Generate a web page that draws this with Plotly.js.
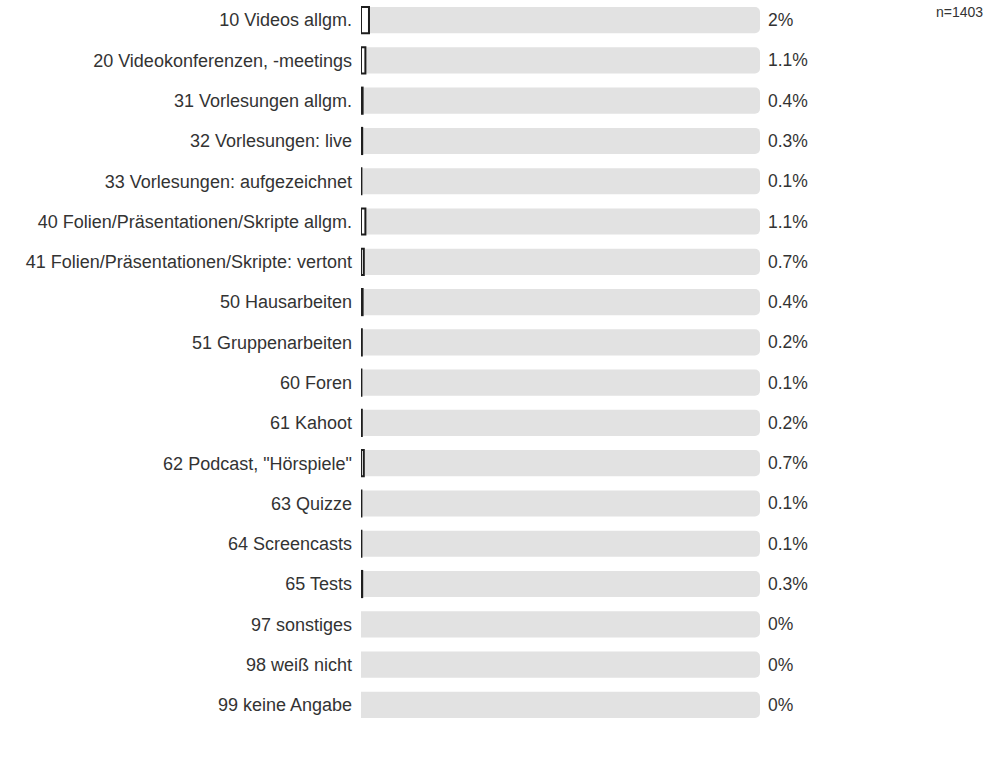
<!DOCTYPE html>
<html>
<head>
<meta charset="utf-8">
<script src="https://cdn.plot.ly/plotly-3.0.1.min.js"></script>
<style>html,body{margin:0;padding:0;background:#fff;}#chart{width:1004px;height:761px;}</style>
</head>
<body>
<div id="chart"></div>
<script>
const categories = [
  "10 Videos allgm.",
  "20 Videokonferenzen, -meetings",
  "31 Vorlesungen allgm.",
  "32 Vorlesungen: live",
  "33 Vorlesungen: aufgezeichnet",
  "40 Folien/Präsentationen/Skripte allgm.",
  "41 Folien/Präsentationen/Skripte: vertont",
  "50 Hausarbeiten",
  "51 Gruppenarbeiten",
  "60 Foren",
  "61 Kahoot",
  "62 Podcast, \"Hörspiele\"",
  "63 Quizze",
  "64 Screencasts",
  "65 Tests",
  "97 sonstiges",
  "98 weiß nicht",
  "99 keine Angabe"
];
const values = [2, 1.1, 0.4, 0.3, 0.1, 1.1, 0.7, 0.4, 0.2, 0.1, 0.2, 0.7, 0.1, 0.1, 0.3, 0, 0, 0];
const valueLabels = ["2%", "1.1%", "0.4%", "0.3%", "0.1%", "1.1%", "0.7%", "0.4%", "0.2%", "0.1%", "0.2%", "0.7%", "0.1%", "0.1%", "0.3%", "0%", "0%", "0%"];
const fullScale = categories.map(() => 100);
const sampleNote = "n=1403";

const font = "Liberation Sans, Arial, sans-serif";

const track = {
  type: "bar", orientation: "h",
  y: categories, x: fullScale,
  marker: {color: "#e2e2e2", cornerradius: 5, line: {width: 0}},
  hoverinfo: "skip", showlegend: false
};
const valueBars = {
  type: "bar", orientation: "h",
  y: categories,
  x: values.map(v => v > 0 ? v : null),
  marker: {color: "#ffffff", cornerradius: 4, line: {color: "#1e1e1e", width: 2}},
  hoverinfo: "skip", showlegend: false
};

const annotations = categories.map((c, i) => ({
  x: 100, y: c, xref: "x", yref: "y",
  text: valueLabels[i], showarrow: false,
  xanchor: "left", xshift: 6,
  font: {family: font, size: 17.5, color: "#333333"}
}));
annotations.push({
  x: 1.5, y: 1, xref: "paper", yref: "paper",
  text: sampleNote, showarrow: false,
  xanchor: "center", yanchor: "middle", yshift: -12,
  font: {family: font, size: 14, color: "#333333"}
});

const layout = {
  width: 1004, height: 761,
  margin: {l: 361, r: 244, t: 0, b: 36},
  paper_bgcolor: "#ffffff", plot_bgcolor: "#ffffff",
  barmode: "overlay", bargap: 0.35,
  font: {family: font, color: "#333333"},
  xaxis: {range: [0, 100], visible: false, fixedrange: true},
  yaxis: {
    type: "category", autorange: "reversed",
    showgrid: false, zeroline: false, showline: false,
    ticks: "", ticklabelstandoff: 8,
    tickfont: {family: font, size: 18, color: "#333333"}
  },
  annotations: annotations
};

Plotly.newPlot("chart", [track, valueBars], layout, {displayModeBar: false, staticPlot: true});
</script>
</body>
</html>
